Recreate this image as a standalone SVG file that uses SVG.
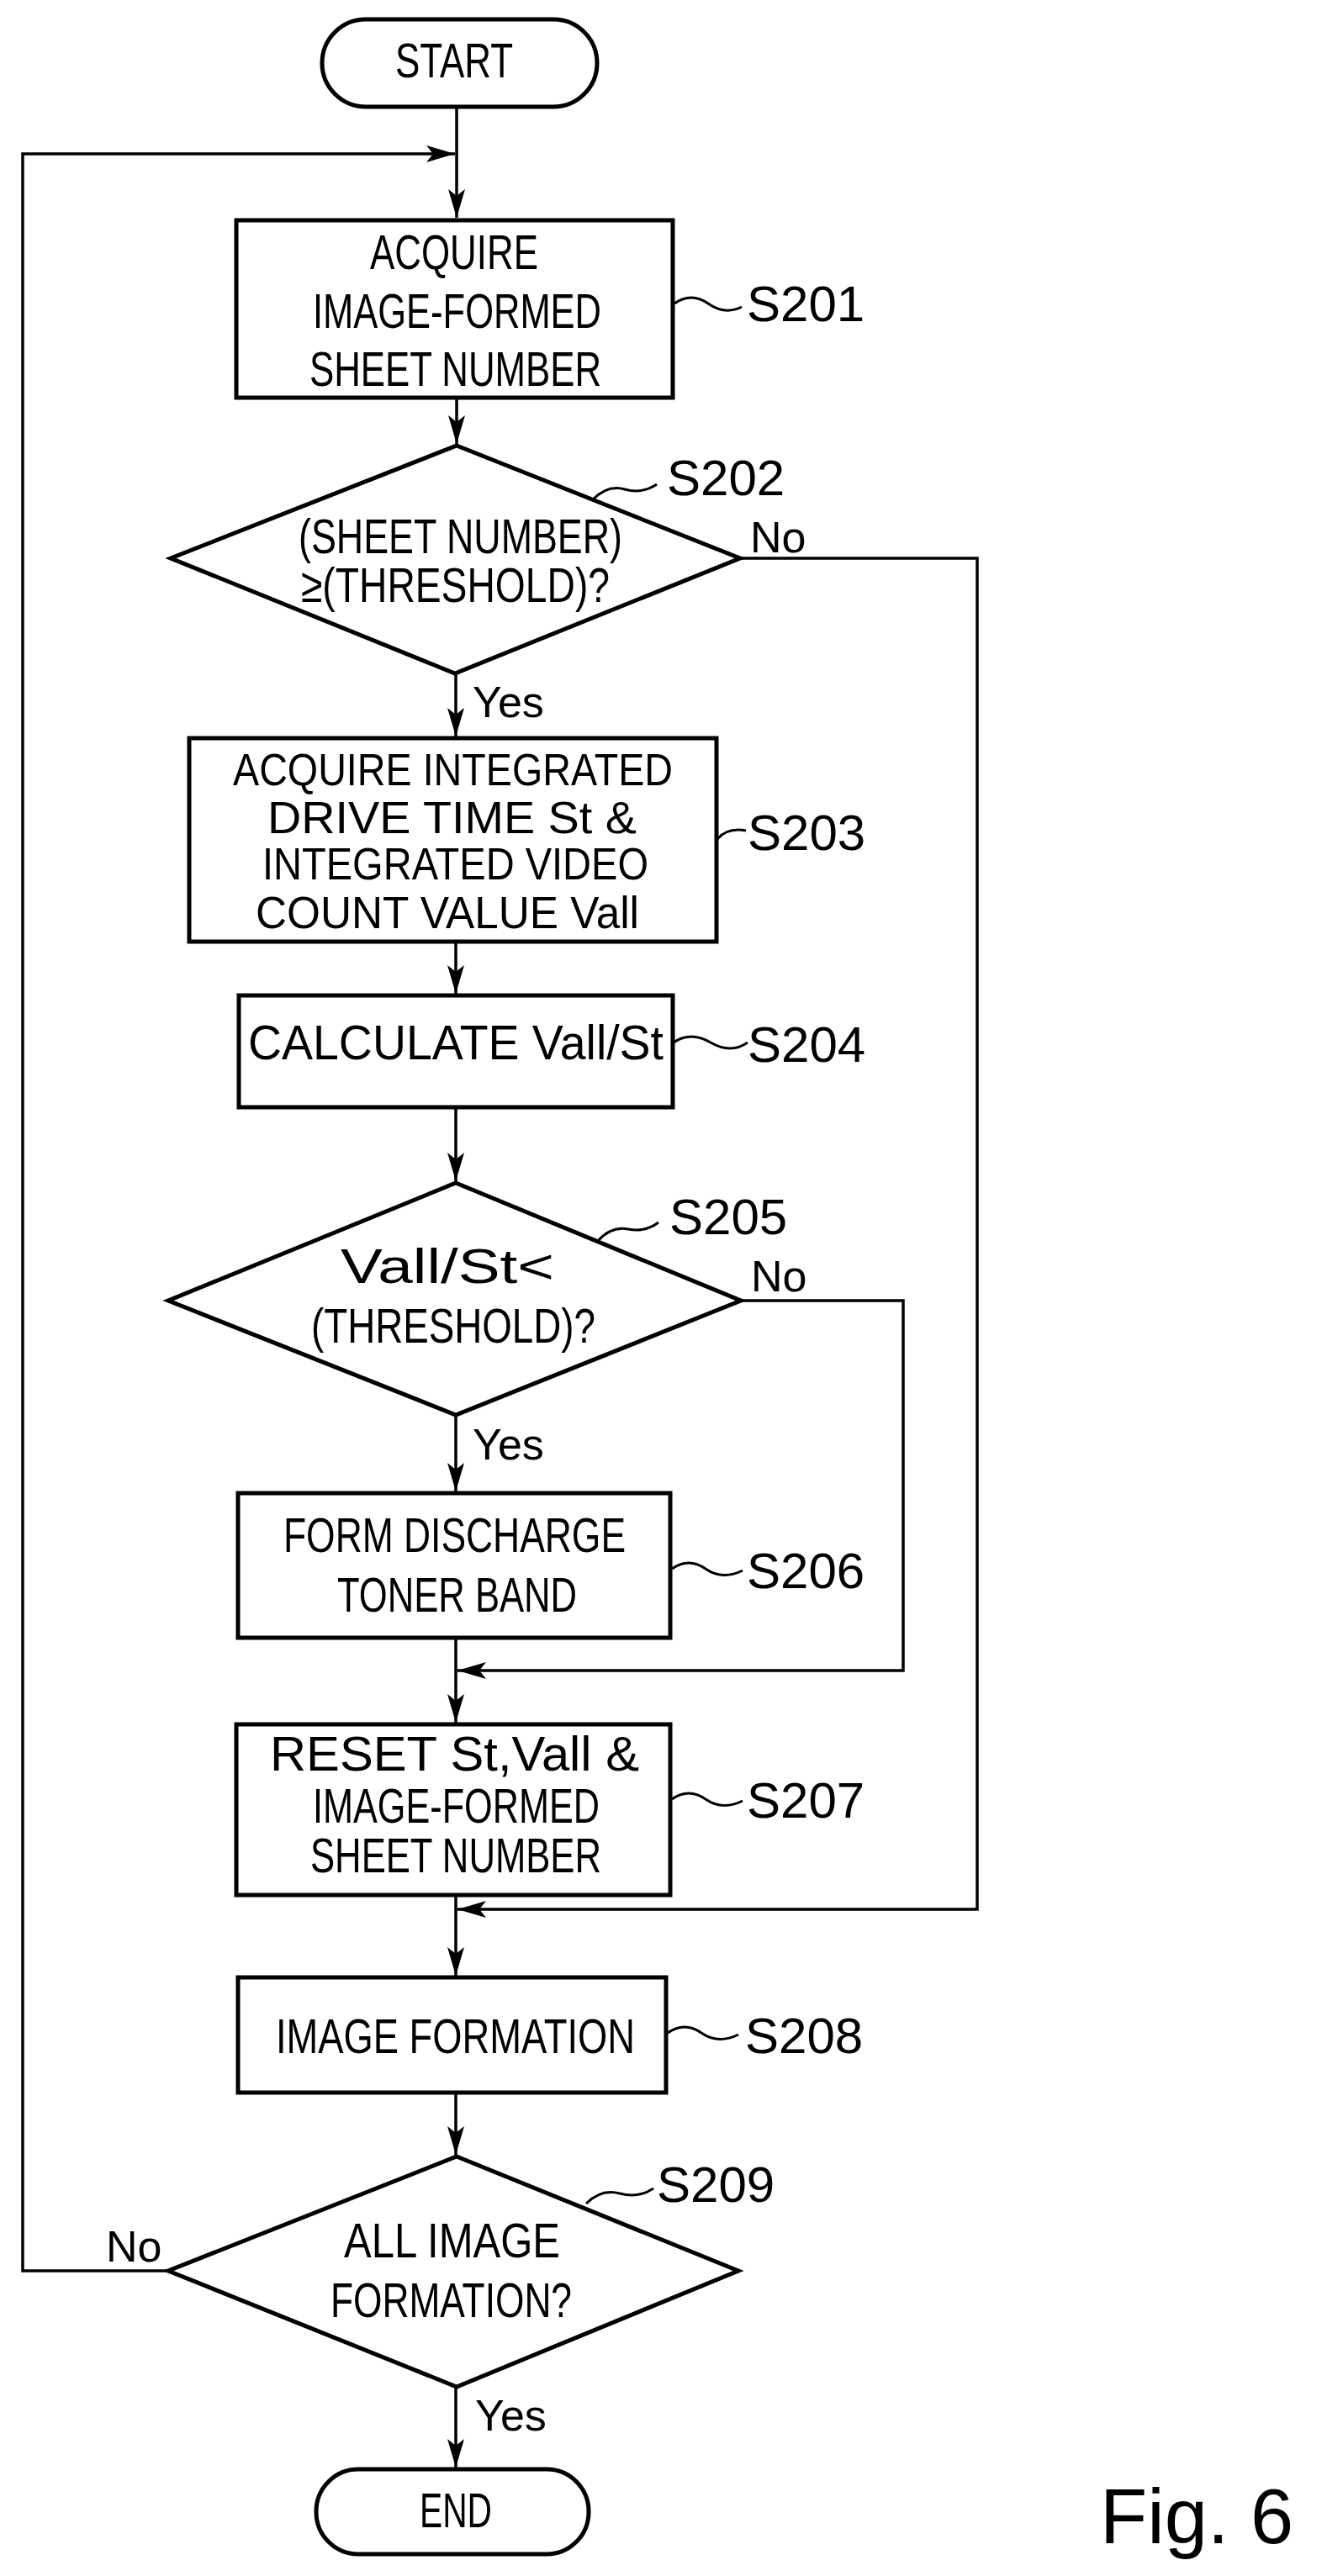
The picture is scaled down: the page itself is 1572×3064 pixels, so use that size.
<svg xmlns="http://www.w3.org/2000/svg" width="1572" height="3064" viewBox="0 0 1572 3064">
<style>
.n{fill:#fff;stroke:#000;stroke-width:5}
.t{font-family:"Liberation Sans",Arial,sans-serif;font-size:58px;fill:#000}
.s{font-size:54px}
.l{font-family:"Liberation Sans",Arial,sans-serif;font-size:60px;fill:#000}
.y{font-family:"Liberation Sans",Arial,sans-serif;font-size:52px;fill:#000}
.c{fill:none;stroke:#000;stroke-width:3.5}
.w{fill:none;stroke:#000;stroke-width:3}
</style>
<defs>
<marker id="a" markerUnits="userSpaceOnUse" markerWidth="40" markerHeight="30" refX="34" refY="10" orient="auto">
<path d="M0 0 L34 10 L0 20 L8 10 Z" fill="#000"/>
</marker>
</defs>
<rect width="1572" height="3064" fill="#fff"/>
<g id="connectors">
<line class="c" x1="543" y1="127" x2="543" y2="259" marker-end="url(#a)"/>
<polyline class="c" points="200,2701 27,2701 27,183 541,183" marker-end="url(#a)"/>
<line class="c" x1="543" y1="473" x2="543" y2="528" marker-end="url(#a)"/>
<line class="c" x1="542" y1="801" x2="542" y2="876" marker-end="url(#a)"/>
<line class="c" x1="542" y1="1120" x2="542" y2="1182" marker-end="url(#a)"/>
<line class="c" x1="542" y1="1317" x2="542" y2="1405" marker-end="url(#a)"/>
<line class="c" x1="542" y1="1683" x2="542" y2="1774" marker-end="url(#a)"/>
<line class="c" x1="542" y1="1948" x2="542" y2="2049" marker-end="url(#a)"/>
<polyline class="c" points="881,1547 1074,1547 1074,1987 544,1987" marker-end="url(#a)"/>
<polyline class="c" points="880,664 1162,664 1162,2271 544,2271" marker-end="url(#a)"/>
<line class="c" x1="542" y1="2254" x2="542" y2="2350" marker-end="url(#a)"/>
<line class="c" x1="542" y1="2489" x2="542" y2="2563" marker-end="url(#a)"/>
<line class="c" x1="542" y1="2839" x2="542" y2="2935" marker-end="url(#a)"/>
<text class="y" x="892" y="657">No</text>
<text class="y" x="562" y="853">Yes</text>
<text class="y" x="893" y="1536">No</text>
<text class="y" x="562" y="1736">Yes</text>
<text class="y" x="126" y="2690">No</text>
<text class="y" x="565" y="2891">Yes</text>
</g>
<g id="start">
<rect class="n" x="383" y="23" width="327" height="104" rx="52"/>
<text class="t" x="470" y="92" textLength="140" lengthAdjust="spacingAndGlyphs">START</text>
</g>
<g id="s201">
<rect class="n" x="281" y="262" width="519" height="211"/>
<text class="t" x="440" y="320" textLength="200" lengthAdjust="spacingAndGlyphs">ACQUIRE</text>
<text class="t" x="372" y="390" textLength="343" lengthAdjust="spacingAndGlyphs">IMAGE-FORMED</text>
<text class="t" x="368" y="459" textLength="347" lengthAdjust="spacingAndGlyphs">SHEET NUMBER</text>
<path class="w" d="M802 361 q20 -14 40 0 t40 4"/>
<text class="l" x="888" y="382">S201</text>
</g>
<g id="s202">
<polygon class="n" points="543,530 880,664 541,801 203,664"/>
<text class="t" x="355" y="658" textLength="385" lengthAdjust="spacingAndGlyphs">(SHEET NUMBER)</text>
<text class="t" x="358" y="716" textLength="367" lengthAdjust="spacingAndGlyphs">≥(THRESHOLD)?</text>
<path class="w" d="M705 594 q18 -18 38 -12 t38 -6"/>
<text class="l" x="793" y="589">S202</text>
</g>
<g id="s203">
<rect class="n" x="225" y="878" width="627" height="242"/>
<text class="t s" x="277" y="934" textLength="523" lengthAdjust="spacingAndGlyphs">ACQUIRE INTEGRATED</text>
<text class="t s" x="318" y="991" textLength="439" lengthAdjust="spacingAndGlyphs">DRIVE TIME St &amp;</text>
<text class="t s" x="312" y="1046" textLength="459" lengthAdjust="spacingAndGlyphs">INTEGRATED VIDEO</text>
<text class="t s" x="304" y="1104" textLength="456" lengthAdjust="spacingAndGlyphs">COUNT VALUE Vall</text>
<path class="w" d="M853 998 q12 -14 34 -10"/>
<text class="l" x="889" y="1011">S203</text>
</g>
<g id="s204">
<rect class="n" x="284" y="1184" width="516" height="133"/>
<text class="t" x="295" y="1260" textLength="494" lengthAdjust="spacingAndGlyphs">CALCULATE Vall/St</text>
<path class="w" d="M801 1240 q20 -14 44 0 t44 0"/>
<text class="l" x="889" y="1263">S204</text>
</g>
<g id="s205">
<polygon class="n" points="542,1407 881,1547 542,1683 200,1547"/>
<text class="t" x="405" y="1526" textLength="254" lengthAdjust="spacingAndGlyphs">Vall/St&lt;</text>
<text class="t" x="370" y="1597" textLength="338" lengthAdjust="spacingAndGlyphs">(THRESHOLD)?</text>
<path class="w" d="M711 1476 q16 -18 36 -14 t36 -8"/>
<text class="l" x="796" y="1468">S205</text>
</g>
<g id="s206">
<rect class="n" x="283" y="1776" width="514" height="172"/>
<text class="t" x="337" y="1846" textLength="407" lengthAdjust="spacingAndGlyphs">FORM DISCHARGE</text>
<text class="t" x="401" y="1917" textLength="285" lengthAdjust="spacingAndGlyphs">TONER BAND</text>
<path class="w" d="M799 1866 q20 -14 40 0 t44 2"/>
<text class="l" x="888" y="1889">S206</text>
</g>
<g id="s207">
<rect class="n" x="281" y="2051" width="516" height="203"/>
<text class="t" x="321" y="2106" textLength="439" lengthAdjust="spacingAndGlyphs">RESET St,Vall &amp;</text>
<text class="t" x="372" y="2168" textLength="341" lengthAdjust="spacingAndGlyphs">IMAGE-FORMED</text>
<text class="t" x="369" y="2227" textLength="346" lengthAdjust="spacingAndGlyphs">SHEET NUMBER</text>
<path class="w" d="M799 2140 q20 -14 40 0 t44 2"/>
<text class="l" x="888" y="2162">S207</text>
</g>
<g id="s208">
<rect class="n" x="283" y="2352" width="509" height="137"/>
<text class="t" x="328" y="2442" textLength="427" lengthAdjust="spacingAndGlyphs">IMAGE FORMATION</text>
<path class="w" d="M794 2418 q20 -14 40 0 t44 2"/>
<text class="l" x="886" y="2442">S208</text>
</g>
<g id="s209">
<polygon class="n" points="543,2565 878,2701 543,2839 200,2701"/>
<text class="t" x="409" y="2685" textLength="257" lengthAdjust="spacingAndGlyphs">ALL IMAGE</text>
<text class="t" x="393" y="2756" textLength="287" lengthAdjust="spacingAndGlyphs">FORMATION?</text>
<path class="w" d="M697 2621 q18 -18 40 -12 t40 -6"/>
<text class="l" x="781" y="2619">S209</text>
</g>
<g id="end">
<rect class="n" x="376" y="2937" width="324" height="101" rx="50"/>
<text class="t" x="499" y="3006" textLength="86" lengthAdjust="spacingAndGlyphs">END</text>
</g>
<text x="1308" y="3025" font-family="Liberation Sans, Arial, sans-serif" font-size="92">Fig. 6</text>
</svg>
